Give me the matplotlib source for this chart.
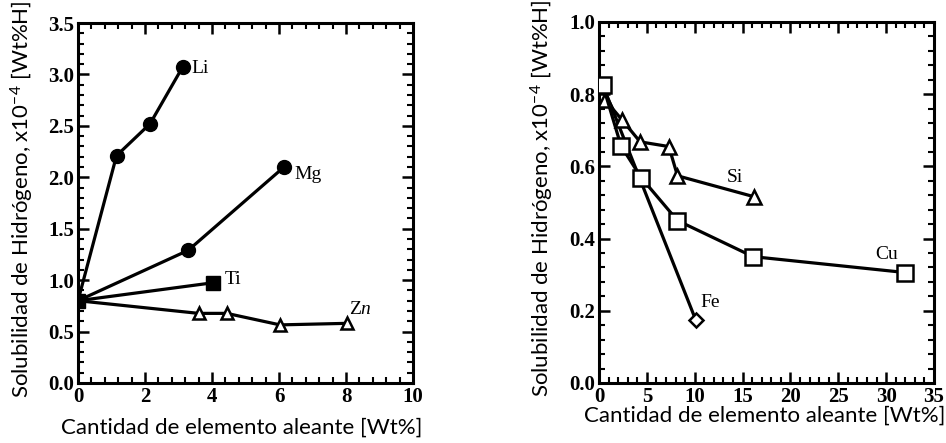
import matplotlib
matplotlib.use("Agg")
import matplotlib.pyplot as plt
from matplotlib.ticker import MultipleLocator, FormatStrFormatter

# ---- data: left panel ----
li_x = [0, 1.15, 2.15, 3.12]
li_y = [0.8, 2.21, 2.52, 3.07]
mg_x = [0, 3.29, 6.15]
mg_y = [0.8, 1.29, 2.10]
ti_x = [0, 4.04]
ti_y = [0.8, 0.975]
zn_x = [0, 3.6, 4.44, 6.03, 8.02]
zn_y = [0.8, 0.677, 0.677, 0.565, 0.58]

# ---- data: right panel ----
cu_x = [0.4, 2.3, 4.4, 8.2, 16.1, 32.0]
cu_y = [0.825, 0.657, 0.569, 0.45, 0.35, 0.306]
si_x = [0.4, 0.65, 2.4, 4.3, 7.3, 8.2, 16.2]
si_y = [0.825, 0.784, 0.729, 0.668, 0.655, 0.574, 0.516]
fe_x = [0.4, 10.1]
fe_y = [0.825, 0.175]

xlabel = "Cantidad de elemento aleante [Wt%]"
ylabel = "Solubilidad de Hidrógeno, x10$^{-4}$ [Wt%H]"

plt.rcParams["mathtext.fontset"] = "custom"
plt.rcParams["mathtext.rm"] = "Lato"
plt.rcParams["mathtext.it"] = "Liberation Serif:italic"

fig = plt.figure(figsize=(9.46, 4.43), dpi=100)
ax1 = fig.add_axes([78/946, 60/443, 335/946, 360/443])
ax2 = fig.add_axes([599/946, 60/443, 335/946, 361/443])

lw = 2.3
k = "black"
serif = "Liberation Serif"
sans = "Lato"

# Left
ax1.plot(li_x, li_y, color=k, lw=lw, marker="o", ms=10, markevery=[1, 2, 3], zorder=3)
ax1.plot(mg_x, mg_y, color=k, lw=lw, marker="o", ms=10, markevery=[1, 2], zorder=3)
ax1.plot(zn_x, zn_y, color=k, lw=lw, marker="^", ms=9, mfc="white", mew=1.8,
         markevery=[1, 2, 3, 4], zorder=3)
ax1.plot(ti_x, ti_y, color=k, lw=lw, marker="s", ms=10, zorder=4)

lab_kw = dict(family=serif, fontsize=14, va="center", ha="left")
ax1.text(3.38, 3.06, "Li", **lab_kw)
ax1.text(6.45, 2.03, "Mg", **lab_kw)
ax1.text(4.38, 1.01, "Ti", **lab_kw)
ax1.text(8.1, 0.71, r"Z$\mathit{n}$", **lab_kw)

ax1.set_xlim(0, 10)
ax1.set_ylim(0, 3.5)
ax1.xaxis.set_major_locator(MultipleLocator(2))
ax1.xaxis.set_minor_locator(MultipleLocator(0.4))
ax1.yaxis.set_major_locator(MultipleLocator(0.5))
ax1.yaxis.set_minor_locator(MultipleLocator(0.1))
ax1.yaxis.set_major_formatter(FormatStrFormatter("%.1f"))

# Right
ax2.plot(fe_x, fe_y, color=k, lw=lw, marker="D", ms=7, mfc="white", mew=1.8,
         markevery=[1], zorder=3)
ax2.plot(si_x, si_y, color=k, lw=lw, marker="^", ms=10, mfc="white", mew=1.8,
         markevery=[1, 2, 3, 4, 5, 6], zorder=3)
ax2.plot(cu_x, cu_y, color=k, lw=lw, marker="s", ms=11, mfc="white", mew=1.8, zorder=4)

ax2.text(13.3, 0.568, "Si", **lab_kw)
ax2.text(28.9, 0.357, "Cu", **lab_kw)
ax2.text(10.6, 0.222, "Fe", **lab_kw)

ax2.set_xlim(0, 35)
ax2.set_ylim(0, 1.0)
ax2.xaxis.set_major_locator(MultipleLocator(5))
ax2.xaxis.set_minor_locator(MultipleLocator(1))
ax2.yaxis.set_major_locator(MultipleLocator(0.2))
ax2.yaxis.set_minor_locator(MultipleLocator(0.04))
ax2.yaxis.set_major_formatter(FormatStrFormatter("%.1f"))

for ax in (ax1, ax2):
    for s in ax.spines.values():
        s.set_linewidth(2.2)
    ax.tick_params(which="major", direction="in", length=8, width=1.8,
                   top=True, right=True, pad=3, labelsize=15,
                   labelfontfamily=serif)
    ax.tick_params(which="minor", direction="in", length=4, width=1.5,
                   top=True, right=True)
    for lab in ax.get_xticklabels() + ax.get_yticklabels():
        lab.set_fontweight("bold")

# axis labels placed like the reference
fig.text(242/946, 1 - 428/443, xlabel, family=sans, fontsize=16, ha="center", va="center")
fig.text(765/946, 1 - 416/443, xlabel, family=sans, fontsize=16, ha="center", va="center")
fig.text(22/946, 1 - 199/443, ylabel, family=sans, fontsize=16, ha="center", va="center",
         rotation=90)
fig.text(542/946, 1 - 198/443, ylabel, family=sans, fontsize=16, ha="center", va="center",
         rotation=90)

fig.savefig("out.png", dpi=100)
